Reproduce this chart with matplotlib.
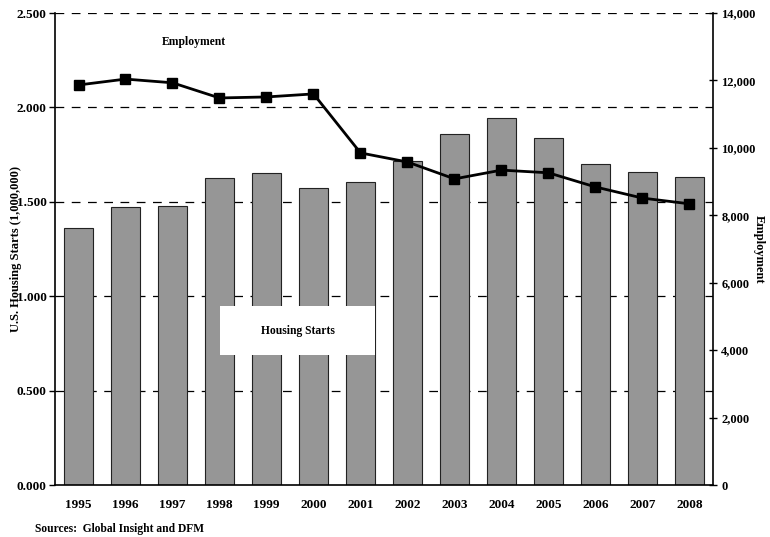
import matplotlib
matplotlib.use("Agg")
import matplotlib.pyplot as plt
from matplotlib.patches import Rectangle
import numpy as np

years = ["1995", "1996", "1997", "1998", "1999", "2000", "2001",
         "2002", "2003", "2004", "2005", "2006", "2007", "2008"]
housing_starts = [1.361, 1.472, 1.478, 1.626, 1.653, 1.573, 1.605,
                  1.716, 1.859, 1.944, 1.838, 1.700, 1.658, 1.631]
employment = [11865, 12040, 11930, 11480, 11510, 11600, 9850,
              9580, 9080, 9340, 9260, 8840, 8510, 8340]
left_ticks = [0.0, 0.5, 1.0, 1.5, 2.0, 2.5]
right_ticks = [0, 2000, 4000, 6000, 8000, 10000, 12000, 14000]

plt.rcParams['font.family'] = ['Liberation Serif', 'DejaVu Serif']
plt.rcParams['font.weight'] = 'bold'

fig = plt.figure(figsize=(7.7, 5.37), dpi=100)
ax = fig.add_axes([55/770, 1-485/537, 658/770, 472/537])
x = np.arange(len(years))

for g in left_ticks[1:]:
    ax.axhline(g, color='black', lw=0.9, ls=(0, (7, 6)), zorder=1)
ax.bar(x, housing_starts, width=0.6, color='#969696', edgecolor='#222222',
       linewidth=0.8, zorder=2)
ax.set_xlim(-0.5, len(years) - 0.5)
ax.set_ylim(0, 2.5)
ax.set_yticks(left_ticks)
ax.set_yticklabels([f"{v:.3f}" for v in left_ticks], fontsize=9.5, fontweight='bold')
ax.set_xticks(x)
ax.set_xticklabels(years, fontsize=9.5, fontweight='bold')
ax.tick_params(axis='x', length=0, pad=10)
ax.tick_params(axis='y', length=4, width=1, pad=2)
ax.spines['top'].set_visible(False)
ax.spines['right'].set_visible(False)
ax.spines['left'].set_linewidth(1.2)
ax.spines['bottom'].set_linewidth(1.2)
ax.set_ylabel("U.S. Housing Starts (1,000,000)", fontsize=9, fontweight='bold')
ax.yaxis.set_label_coords((22 - 55) / 658, 0.5)

ax2 = ax.twinx()
ax2.plot(x, employment, color='black', lw=2, marker='s', markersize=7, zorder=5)
ax2.set_ylim(0, 14000)
ax2.set_yticks(right_ticks)
ax2.set_yticklabels([f"{v:,}" for v in right_ticks], fontsize=9, fontweight='bold')
ax2.tick_params(axis='y', direction='inout', length=6, width=1, pad=3)
ax2.spines['top'].set_visible(False)
ax2.spines['left'].set_visible(False)
ax2.spines['bottom'].set_visible(False)
ax2.spines['right'].set_linewidth(1.2)
ax2.set_ylabel("Employment", fontsize=9, fontweight='bold', rotation=-90)
ax2.yaxis.set_label_coords((765 - 55) / 658, 0.5)

fig.text(194/770, 1-42/537, "Employment", fontsize=8.4, fontweight='bold',
         ha='center', va='center')
fig.patches.append(Rectangle((220/770, 1-355/537), 155/770, 49/537,
                             transform=fig.transFigure, facecolor='white',
                             edgecolor='none', zorder=9))
fig.text(298/770, 1-331/537, "Housing Starts", fontsize=8.4, fontweight='bold',
         ha='center', va='center', zorder=10)
fig.text(35/770, 1-529/537, "Sources:  Global Insight and DFM", fontsize=8.3,
         fontweight='bold', ha='left', va='center')

fig.savefig("out.png", dpi=100)
